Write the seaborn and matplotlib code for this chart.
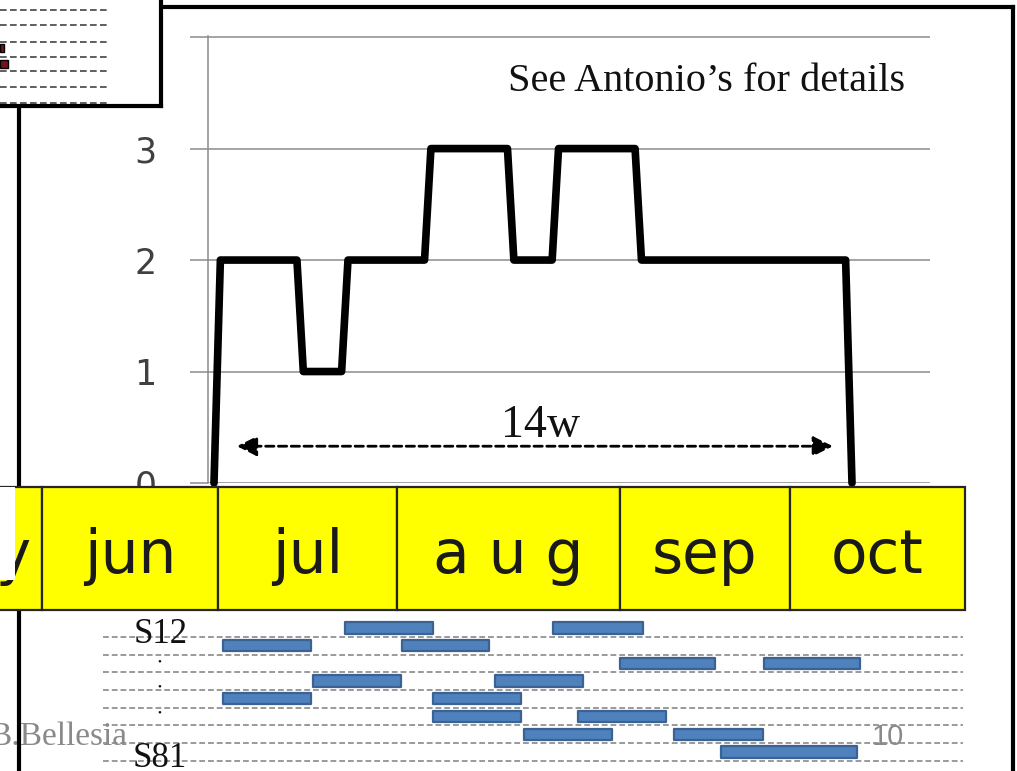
import numpy as np
import matplotlib
matplotlib.use('Agg')
import matplotlib.pyplot as plt
import seaborn as sns
from matplotlib.lines import Line2D
from matplotlib.patches import Rectangle

# staffing curve, x in days from the start of the run
load_day = [0, 1, 13, 14, 20, 21, 33, 34, 46, 47, 53, 54, 66, 67, 99, 100]
load_val = [0, 2, 2, 1, 1, 2, 2, 3, 3, 2, 2, 3, 3, 2, 2, 0]
y_ticks = [0, 1, 2, 3, 4]
y_ticklabels = ['0', '1', '2', '3', '']

span_start, span_end = 3.6, 97.0
span_label = '14w'
note = 'See Antonio\u2019s for details'

months = ['may', 'jun', 'jul', 'a u g', 'sep', 'oct']
month_edges = [-50.4, -27.0, 0.6, 28.7, 63.6, 90.3, 117.7]

# shifts (S12 ... S81), row index / start day / length in days
shift_row = [0, 0, 1, 1, 2, 2, 3, 3, 4, 4, 5, 5, 6, 6, 7]
shift_start = [20.5, 53.1, 1.4, 29.5, 63.6, 86.2, 15.5, 44.0, 1.4, 34.3,
               34.3, 57.0, 48.6, 72.1, 79.5]
shift_len = [13.8, 14.1, 13.8, 13.6, 15.0, 15.0, 13.8, 13.8, 13.8, 13.8,
             13.8, 13.8, 13.8, 14.0, 21.3]
row_top, row_bottom = 'S12', 'S81'

# thumbnail of the previous slide (top left)
thumb_lines = [10, 25, 42, 57, 71, 87, 103]
thumb_bar_y = [48, 63.5]
thumb_bar_len = [4, 8]

footer_name = 'B.Bellesia'
page_no = '10'

#%% layout helpers (pixel based)
W, H = 1017, 771
PX0, PPD = 214, 6.38   # pixel of day 0, pixels per day


def px2d(px):
    return (px - PX0) / PPD


def add_ax(x0, y0, x1, y1, **kw):
    return fig.add_axes([x0 / W, 1 - y1 / H, (x1 - x0) / W, (y1 - y0) / H], **kw)


def ftext(px, py, s, **kw):
    return fig.text(px / W, 1 - py / H, s, **kw)


sns.set_theme(style='white')
plt.rcParams['font.family'] = ['DejaVu Sans']

fig = plt.figure(figsize=(W / 100, H / 100), dpi=100)
fig.patch.set_facecolor('white')

# main line chart
ax = add_ax(208, 36, 930, 483)
ax.set_facecolor('none')
ax.set_zorder(1)
sns.lineplot(x=load_day, y=load_val, ax=ax, color='black', linewidth=5.5,
             estimator=None, sort=False)
ln = ax.lines[0]
ln.set_solid_joinstyle('round')
ln.set_clip_on(False)
ax.set_xlim(px2d(208), px2d(930))
ax.set_ylim(0, 4.01)
ax.set_yticks(y_ticks, y_ticklabels)
ax.set_xticks([])
ax.set_xlabel('')
ax.set_ylabel('')
ax.set_axisbelow(True)
ax.grid(True, axis='y', color='#8c8c8c', lw=1.1)
ax.tick_params(axis='y', left=True, length=13, width=1.1, color='#8c8c8c',
               pad=24, labelsize=25, labelcolor='#404040')
for s in ['top', 'right', 'bottom']:
    ax.spines[s].set_visible(False)
ax.spines['left'].set_color('#8c8c8c')
ax.spines['left'].set_linewidth(1.1)

ax.annotate('', xy=(span_end, 0.33), xytext=(span_start, 0.33),
            arrowprops=dict(arrowstyle='<|-|>,head_length=0.8,head_width=0.4',
                            color='black', lw=2, linestyle=(0, (3, 1.6)),
                            mutation_scale=15, shrinkA=0, shrinkB=0))
ftext(541, 437, span_label, ha='center', va='baseline', fontsize=33,
      family='Liberation Serif', color='#111111')
ftext(508, 91, note, ha='left', va='baseline', fontsize=29,
      family='Liberation Serif', color='#111111')

# month band
axm = add_ax(0, 487, W, 610)
axm.set_facecolor('none')
axm.set_zorder(5)
edges = np.array(month_edges)
axm.bar(edges[:-1], 1, width=np.diff(edges), align='edge', color='#ffff00',
        edgecolor='#262626', linewidth=1.6, clip_on=False)
for m, a, b in zip(months, edges[:-1], edges[1:]):
    axm.text((a + b) / 2, 0.30, m, ha='center', va='baseline', fontsize=43,
             color='#1a1a1a', family='DejaVu Sans')
axm.set_xlim(px2d(0), px2d(W))
axm.set_ylim(0, 1)
axm.axis('off')
fig.add_artist(Rectangle((0, 1 - 580 / H), 15 / W, 93 / H, transform=fig.transFigure,
                         facecolor='white', edgecolor='none', zorder=7))

# shift gantt
axg = add_ax(0, 610, W, H)
axg.set_facecolor('none')
axg.set_zorder(1)
axg.hlines(np.arange(8) + 0.5, px2d(103), px2d(963), colors='#9a9a9a',
           linestyles=(0, (3, 1.5)), lw=1.4)
bars = axg.barh(shift_row, shift_len, left=shift_start, height=0.64,
                color='#4f81bd', edgecolor='#3a6394', linewidth=1.6)
for b in bars:
    b.set_joinstyle('round')
axg.set_xlim(px2d(0), px2d(W))
axg.set_ylim((H - 628) / 17.7, (610 - 628) / 17.7)
axg.axis('off')

ftext(134, 643, row_top, ha='left', va='baseline', fontsize=25,
      family='Liberation Serif', color='#111111')
ftext(133, 767, row_bottom, ha='left', va='baseline', fontsize=25,
      family='Liberation Serif', color='#111111')
for yy in [662, 687, 713]:
    ftext(159, yy, '\u2022', ha='center', va='center', fontsize=8,
          family='Liberation Serif', color='#111111')
ftext(127, 745, footer_name, ha='right', va='baseline', fontsize=24,
      family='Liberation Serif', color='#8a8a8a')
ftext(888, 745, page_no, ha='center', va='baseline', fontsize=21,
      family='Liberation Sans', color='#8a8a8a')

# thumbnail box top left
axb = add_ax(0, 0, 161, 106)
axb.set_zorder(6)
axb.set_facecolor('white')
axb.hlines(thumb_lines, 0, 108, colors='#444444', linestyles=(0, (4, 2)), lw=1.2)
axb.barh(thumb_bar_y, thumb_bar_len, left=0, height=8, color='#7b0f1a',
         edgecolor='black', linewidth=1)
axb.set_xlim(0, 161)
axb.set_ylim(106, 0)
axb.set_xticks([])
axb.set_yticks([])
for s in ['top', 'left']:
    axb.spines[s].set_visible(False)
for s in ['right', 'bottom']:
    axb.spines[s].set_color('black')
    axb.spines[s].set_linewidth(3)

# slide frame
frame = dict(color='black', lw=3, transform=fig.transFigure, zorder=4,
             solid_capstyle='projecting')
fig.add_artist(Line2D([161 / W, 1013 / W], [1 - 7 / H, 1 - 7 / H], **frame))
fig.add_artist(Line2D([1013 / W, 1013 / W], [1 - 7 / H, 0], **frame))
fig.add_artist(Line2D([19 / W, 19 / W], [1 - 106 / H, 0], **frame))

fig.savefig('out.png', dpi=100)
